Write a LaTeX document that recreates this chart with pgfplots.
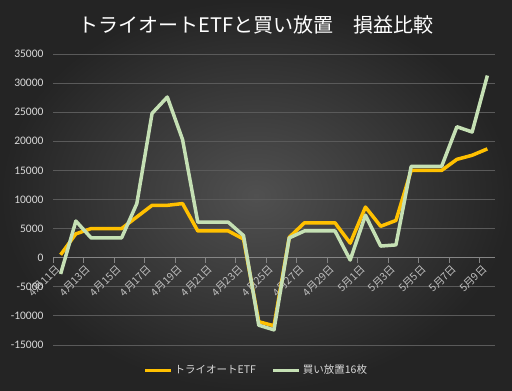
\documentclass[border=0pt]{standalone}
\usepackage{fontspec}
\setmainfont{Noto Sans CJK JP}
\newfontfamily\numfont{Carlito}
\usepackage{pgfplots}
\pgfplotsset{compat=1.18}
\definecolor{bgin}{HTML}{505050}
\definecolor{bgout}{HTML}{242424}
\definecolor{gridc}{HTML}{5A5A5A}
\definecolor{axc}{HTML}{858585}
\definecolor{etf}{HTML}{FFC000}
\definecolor{hold}{HTML}{C5E0B4}
\definecolor{lbl}{HTML}{D9D9D9}
\definecolor{xlbl}{HTML}{BFBFBF}
\begin{document}
\begin{tikzpicture}[x=1pt,y=1pt]
\shade[inner color=bgin, outer color=bgout] (0,0) rectangle (512,391);
\begin{axis}[
  at={(53pt,46pt)}, anchor=south west,
  scale only axis, width=442pt, height=291pt,
  xmin=-0.5, xmax=28.5, ymin=-15000, ymax=35000,
  axis x line*=middle, axis y line*=left,
  y axis line style={draw=none},
  x axis line style={axc, line width=0.8pt},
  ytick={-15000,-10000,...,35000},
  scaled y ticks=false,
  /pgf/number format/assume math mode=true,
  /pgf/number format/1000 sep={},
  yticklabel style={font=\numfont\fontsize{11.5}{12}\selectfont, color=lbl},
  yticklabel shift=6pt,
  ymajorgrids, major grid style={gridc, line width=0.8pt},
  xtick={0,2,...,28},
  xticklabels={4月11日,4月13日,4月15日,4月17日,4月19日,4月21日,4月23日,4月25日,4月27日,4月29日,5月1日,5月3日,5月5日,5月7日,5月9日},
  xticklabel style={rotate=45, anchor=east, font=\fontsize{10.5}{12}\selectfont, color=xlbl},
  xticklabel shift=7pt,
  minor xtick={-0.5,1.5,...,27.5},
  major tick length=0pt, minor tick length=5pt,
  xtick align=outside,
  ytick style={draw=none},
  minor x tick style={axc, line width=0.8pt},
  legend style={at={(0.46,-0.086)}, anchor=center, legend columns=2, draw=none, fill=none,
    text=lbl, font=\fontsize{10.5}{12}\selectfont,
    /tikz/every even column/.append style={column sep=14pt}},
  legend image code/.code={\draw[#1, line width=3pt] (0pt,0pt) -- (26pt,0pt);},
]
\addplot[etf, line width=3.5pt, line join=round] coordinates {
(0,500) (1,4100) (2,5000) (3,5000) (4,5000) (5,7000) (6,9000) (7,9000) (8,9300)
(9,4600) (10,4600) (11,4600) (12,3200) (13,-11000) (14,-11700) (15,3500) (16,6000)
(17,6000) (18,6000) (19,2500) (20,8700) (21,5400) (22,6400) (23,15000) (24,15000)
(25,15000) (26,16900) (27,17600) (28,18700)};
\addlegendentry{トライオートETF}
\addplot[hold, line width=3.5pt, line join=round] coordinates {
(0,-2800) (1,6300) (2,3400) (3,3400) (4,3400) (5,9300) (6,24800) (7,27600) (8,20300)
(9,6100) (10,6100) (11,6100) (12,3800) (13,-11600) (14,-12400) (15,3400) (16,4600)
(17,4600) (18,4600) (19,-400) (20,7300) (21,2000) (22,2200) (23,15700) (24,15700)
(25,15700) (26,22500) (27,21600) (28,31300)};
\addlegendentry{買い放置16枚}
\end{axis}
\node[white, font=\fontsize{20}{24}\selectfont] at (256,366) {トライオートETFと買い放置　損益比較};
\pgfresetboundingbox
\useasboundingbox (0,0) rectangle (512,391);
\end{tikzpicture}
\end{document}
